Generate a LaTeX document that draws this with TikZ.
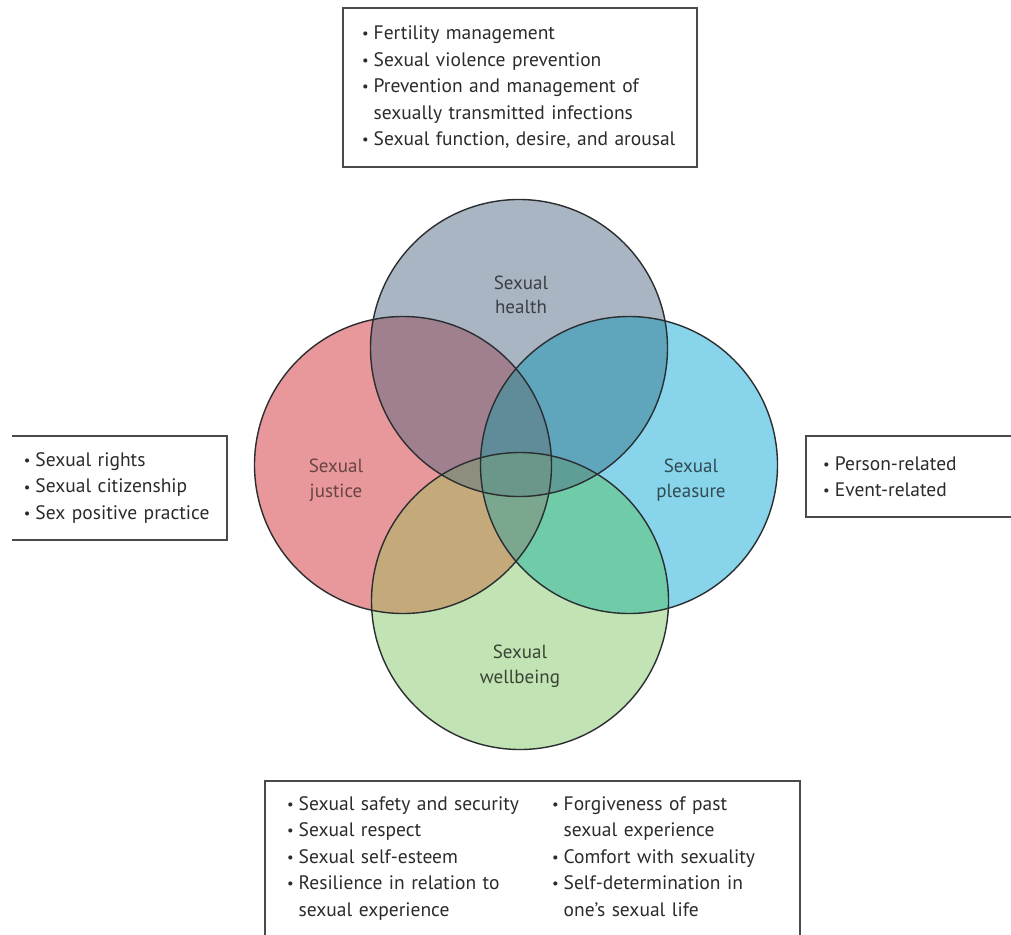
\documentclass[tikz,border=0pt]{standalone}
\usepackage{fontspec}
\setmainfont{PT Sans}
\usetikzlibrary{positioning}

% single areas
\definecolor{hcol}{HTML}{AAB5C3}
\definecolor{jcol}{HTML}{E8979A}
\definecolor{pcol}{HTML}{88D4EA}
\definecolor{wcol}{HTML}{C2E3B4}
% overlaps
\definecolor{hjcol}{HTML}{A0808E}
\definecolor{hpcol}{HTML}{5FA6BD}
\definecolor{jwcol}{HTML}{C4AA7B}
\definecolor{pwcol}{HTML}{6FCBA8}
\definecolor{hjpcol}{HTML}{5F8C98}
\definecolor{jpwcol}{HTML}{7AA78E}
\definecolor{hjwcol}{HTML}{8F8E7E}
\definecolor{hpwcol}{HTML}{5F9D97}
\definecolor{allcol}{HTML}{6B968A}
\definecolor{ringline}{HTML}{2A2E30}
\definecolor{framecol}{HTML}{4A4A4A}
\definecolor{boxtext}{HTML}{2B2B2B}

% bullet with a fixed hang, and the matching indent for run-on lines
\newcommand{\bul}{\makebox[0.6em][l]{\raisebox{0.1ex}{\scalebox{0.75}{\textbullet}}}}
\newcommand{\hang}{\hspace*{0.6em}}
\newcommand{\rad}{148.5}
\newcommand{\disc}[1]{(#1) circle (\rad)}

\begin{document}
\begin{tikzpicture}[x=1pt, y=-1pt, font=\fontsize{19.5}{26.5}\selectfont]
\tikzstyle{ring}=[draw=ringline, line width=1.4pt]
\tikzstyle{lbl}=[align=center, font=\fontsize{19}{24.5}\selectfont]
\tikzstyle{listbox}=[align=left, text=boxtext, inner ysep=0pt]
\tikzstyle{frame}=[draw=framecol, line width=1.6pt]

\useasboundingbox (0,0) rectangle (1011,934);
\fill[white] (0,0) rectangle (1011,934);

\coordinate (hc) at (519,348);
\coordinate (jc) at (403,465);
\coordinate (pc) at (629,465);
\coordinate (wc) at (520,601);

% the four domains, then every overlap on top
\fill[hcol] \disc{hc};
\fill[jcol] \disc{jc};
\fill[pcol] \disc{pc};
\fill[wcol] \disc{wc};
\begin{scope}\clip \disc{hc}; \fill[hjcol] \disc{jc}; \fill[hpcol] \disc{pc}; \end{scope}
\begin{scope}\clip \disc{wc}; \fill[jwcol] \disc{jc}; \fill[pwcol] \disc{pc}; \end{scope}
\begin{scope}\clip \disc{hc}; \clip \disc{wc}; \fill[hjwcol] \disc{jc}; \fill[hpwcol] \disc{pc}; \end{scope}
\begin{scope}\clip \disc{jc}; \clip \disc{pc}; \fill[hjpcol] \disc{hc}; \fill[jpwcol] \disc{wc};
  \clip \disc{hc}; \fill[allcol] \disc{wc}; \end{scope}
\foreach \c in {hc,jc,pc,wc}
  \draw[ring] \disc{\c};

\node[lbl, text=hcol!35!black] (health) at (521,295) {Sexual\\health};
\node[lbl, text=jcol!45!black] (justice) at (336,480) {Sexual\\justice};
\node[lbl, text=pcol!35!black] (pleasure) at (691,480) {Sexual\\pleasure};
\node[lbl, text=wcol!30!black] (well) at (520,666) {Sexual\\wellbeing};

% lists around the circles
\node[listbox, frame, text width=316pt, inner xsep=19pt, minimum height=159pt] (health-list) at (520,87.5)
  {\bul Fertility management\\
   \bul Sexual violence prevention\\
   \bul Prevention and management of\\
   \hang sexually transmitted infections\\
   \bul Sexual function, desire, and arousal};

\node[listbox, anchor=east, text width=191pt, inner xsep=12pt, minimum height=104pt] (justice-list) at (227,488)
  {\bul Sexual rights\\
   \bul Sexual citizenship\\
   \bul Sex positive practice};
\draw[frame] (justice-list.north west) -- (justice-list.north east)
  -- (justice-list.south east) -- (justice-list.south west);

\node[listbox, anchor=west, text width=190pt, inner xsep=17pt, minimum height=81pt] (pleasure-list) at (806,476.5)
  {\bul Person-related\\
   \bul Event-related};
\draw[frame] (pleasure-list.north east) -- (pleasure-list.north west)
  -- (pleasure-list.south west) -- (pleasure-list.south east);

\node[listbox, anchor=north, text width=491pt, inner xsep=22pt, inner ysep=15pt] (well-list) at (532.5,781)
  {\makebox[265pt][l]{\bul Sexual safety and security}\bul Forgiveness of past\\
   \makebox[265pt][l]{\bul Sexual respect}\hang sexual experience\\
   \makebox[265pt][l]{\bul Sexual self-esteem}\bul Comfort with sexuality\\
   \makebox[265pt][l]{\bul Resilience in relation to}\bul Self-determination in\\
   \makebox[265pt][l]{\hang sexual experience}\hang one’s sexual life};
\draw[frame] (well-list.west |- 0,950) -- (well-list.north west)
  -- (well-list.north east) -- (well-list.east |- 0,950);
\end{tikzpicture}
\end{document}
